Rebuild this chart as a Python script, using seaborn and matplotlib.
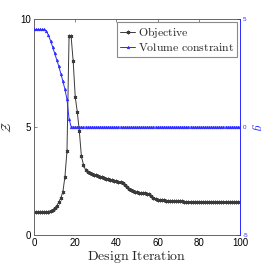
import numpy as np
import pandas as pd
import matplotlib
matplotlib.use("Agg")
import matplotlib.pyplot as plt
import seaborn as sns

# ---------------- data ----------------
iterations = list(range(0, 101))

objective = [
    1.08, 1.08, 1.08, 1.08, 1.08, 1.08, 1.08, 1.09, 1.12, 1.16,
    1.24, 1.35, 1.52, 1.72, 2.00, 2.70, 3.90, 9.20, 9.20, 8.05,
    6.40, 5.70, 4.80, 3.65, 3.25, 3.02, 2.93, 2.87, 2.83, 2.79,
    2.76, 2.72, 2.69, 2.67, 2.64, 2.61, 2.58, 2.56, 2.53, 2.51,
    2.49, 2.47, 2.44, 2.40, 2.33, 2.22, 2.12, 2.07, 2.04, 2.01,
    1.99, 1.97, 1.96, 1.94, 1.93, 1.91, 1.88, 1.80, 1.72, 1.67,
    1.64, 1.62, 1.61, 1.60, 1.59, 1.58, 1.58, 1.57, 1.57, 1.56,
    1.56, 1.56, 1.56, 1.55, 1.55, 1.55, 1.55, 1.55, 1.55, 1.54,
    1.54, 1.54, 1.54, 1.54, 1.54, 1.54, 1.54, 1.54, 1.53, 1.53,
    1.53, 1.53, 1.53, 1.53, 1.53, 1.53, 1.53, 1.53, 1.53, 1.53,
    1.53,
]

volume_constraint = [
    4.52, 4.52, 4.52, 4.52, 4.52, 4.52, 4.45, 4.25, 4.00, 3.72,
    3.42, 3.12, 2.82, 2.48, 2.12, 1.75, 1.28, 0.38, 0.02, 0.00,
    0.00, 0.00, 0.00, 0.00, 0.00, 0.00, 0.00, 0.00, 0.00, 0.00,
    0.00, 0.00, 0.00, 0.00, 0.00, 0.00, 0.00, 0.00, 0.00, 0.00,
    0.00, 0.00, 0.00, 0.00, 0.00, 0.00, 0.00, 0.00, 0.00, 0.00,
    0.00, 0.00, 0.00, 0.00, 0.00, 0.00, 0.00, 0.00, 0.00, 0.00,
    0.00, 0.00, 0.00, 0.00, 0.00, 0.00, 0.00, 0.00, 0.00, 0.00,
    0.00, 0.00, 0.00, 0.00, 0.00, 0.00, 0.00, 0.00, 0.00, 0.00,
    0.00, 0.00, 0.00, 0.00, 0.00, 0.00, 0.00, 0.00, 0.00, 0.00,
    0.00, 0.00, 0.00, 0.00, 0.00, 0.00, 0.00, 0.00, 0.00, 0.00,
    0.00,
]

x_ticks = [0, 20, 40, 60, 80, 100]
left_ticks = [0, 5, 10]
right_ticks = [-5, 0, 5]

series_labels = ["Objective", "Volume constraint"]
x_label = "Design Iteration"

# ---------------- style ----------------
sns.set_style("white")
plt.rcParams["font.family"] = ["Liberation Sans", "DejaVu Sans"]
plt.rcParams["mathtext.fontset"] = "cm"
plt.rcParams["axes.unicode_minus"] = False

BLACK = "#3a3a3a"
BLUE = "#2b2bff"

fig = plt.figure(figsize=(2.66, 2.65), dpi=100)
ax = fig.add_axes([0.128, 0.113, 0.774, 0.815])

df_obj = pd.DataFrame({"iter": iterations, "value": objective})
df_vol = pd.DataFrame({"iter": iterations, "value": volume_constraint})

sns.lineplot(data=df_obj, x="iter", y="value", ax=ax, color=BLACK,
             linewidth=0.7, marker=(6, 2, 0), markersize=2.6,
             markeredgewidth=0.6, markeredgecolor=BLACK,
             label=series_labels[0], legend=False)

ax2 = ax.twinx()
sns.lineplot(data=df_vol, x="iter", y="value", ax=ax2, color=BLUE,
             linewidth=0.7, marker="^", markersize=2.0,
             markeredgewidth=0.3, markeredgecolor=BLUE,
             label=series_labels[1], legend=False)

ax.set_xlim(0, 100)
ax.set_ylim(0, 10)
ax2.set_ylim(-5, 5)

ax.set_xticks(x_ticks)
ax.set_yticks(left_ticks)
ax2.set_yticks(right_ticks)
ax.set_xticklabels([str(t) for t in x_ticks])
ax.set_yticklabels([str(t) for t in left_ticks])
ax2.set_yticklabels([str(t) for t in right_ticks])

ax.tick_params(axis="both", which="both", direction="in", length=2.5,
               width=0.5, color="#555555", labelsize=7, pad=2,
               top=True, labelcolor="black")
ax.tick_params(axis="y", right=False)
ax2.tick_params(axis="y", direction="in", length=2.5, width=0.5,
                color=BLUE, labelcolor=BLUE, labelsize=4.5, pad=2)

for name in ["left", "bottom", "top"]:
    ax.spines[name].set_color("#666666")
    ax.spines[name].set_linewidth(0.7)
for name in ["left", "bottom", "top"]:
    ax2.spines[name].set_visible(False)
ax2.spines["right"].set_color(BLUE)
ax2.spines["right"].set_linewidth(0.7)
ax.spines["right"].set_visible(False)

ax.set_xlabel(r"$\mathrm{Design\ Iteration}$", fontsize=10, labelpad=1)
ax.set_ylabel(r"$\mathcal{Z}$", fontsize=9, labelpad=5)
ax2.set_ylabel(r"$g$", fontsize=9, color=BLUE, rotation=270, labelpad=10)

h1, l1 = ax.get_legend_handles_labels()
h2, l2 = ax2.get_legend_handles_labels()
leg = ax2.legend(h1 + h2, [r"$\mathrm{Objective}$", r"$\mathrm{Volume\ constraint}$"],
                 loc="upper right", fontsize=8.5, frameon=True, fancybox=False,
                 framealpha=1, edgecolor="#8a8a8a", handlelength=1.3,
                 handletextpad=0.2, borderpad=0.25, labelspacing=0.15,
                 borderaxespad=0.25)
leg.get_frame().set_linewidth(0.8)

fig.savefig("out.png", dpi=100)
